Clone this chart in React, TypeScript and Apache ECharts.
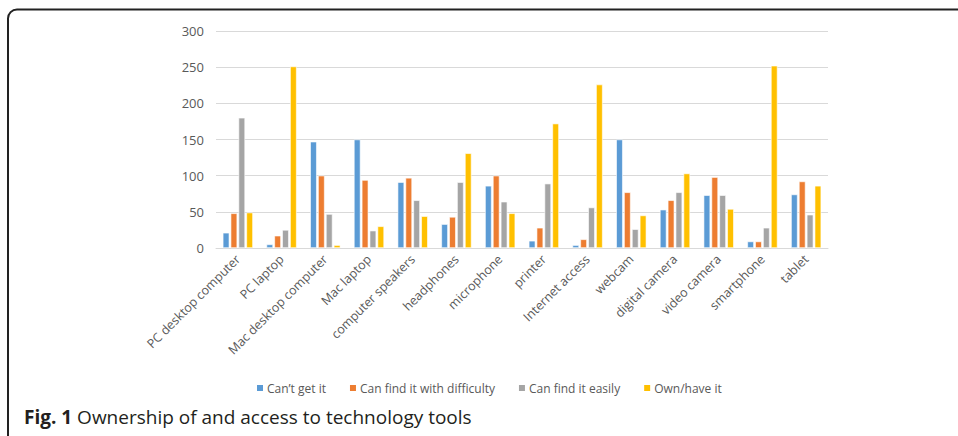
import React, { useEffect, useRef } from "react";
import * as echarts from "echarts";

const categories = [
  "PC desktop computer",
  "PC laptop",
  "Mac desktop computer",
  "Mac laptop",
  "computer speakers",
  "headphones",
  "microphone",
  "printer",
  "Internet access",
  "webcam",
  "digital camera",
  "video camera",
  "smartphone",
  "tablet",
];

const seriesNames = [
  "Can\u2019t get it",
  "Can find it with difficulty",
  "Can find it easily",
  "Own/have it",
];

const cantGetIt = [21, 5, 147, 150, 91, 33, 86, 10, 4, 150, 53, 73, 9, 74];
const withDifficulty = [48, 17, 100, 94, 97, 43, 100, 28, 12, 77, 66, 98, 9, 92];
const easily = [180, 25, 47, 24, 66, 91, 64, 89, 56, 26, 77, 73, 28, 46];
const ownHave = [49, 251, 4, 30, 44, 131, 48, 172, 226, 45, 103, 54, 252, 86];

const seriesData = [cantGetIt, withDifficulty, easily, ownHave];
const colors = ["#5B9BD5", "#ED7D31", "#A5A5A5", "#FFC000"];

const yTicks = [0, 50, 100, 150, 200, 250, 300];

export default function App() {
  const ref = useRef<HTMLDivElement>(null);

  useEffect(() => {
    if (!ref.current) return;
    const chart = echarts.init(ref.current, null, { renderer: "svg" });
    const font = "Open Sans";
    chart.setOption({
      animation: false,
      backgroundColor: "#ffffff",
      textStyle: { fontFamily: font },
      grid: { left: 216, top: 31, width: 612, height: 217, containLabel: false },
      legend: {
        data: seriesNames,
        left: 250,
        top: 377,
        itemWidth: 8,
        itemHeight: 8,
        itemGap: 22,
        icon: "rect",
        textStyle: { color: "#595959", fontSize: 12, fontFamily: font, padding: [0, 0, 0, -2] },
      },
      xAxis: {
        type: "category",
        data: categories,
        axisLine: { lineStyle: { color: "#D9D9D9", width: 1 } },
        axisTick: { show: false },
        axisLabel: {
          rotate: 45,
          color: "#595959",
          fontSize: 12.5,
          fontFamily: font,
          interval: 0,
          margin: 9,
        },
      },
      yAxis: {
        type: "value",
        min: yTicks[0],
        max: yTicks[yTicks.length - 1],
        interval: 50,
        axisLine: { show: false },
        axisTick: { show: false },
        splitLine: { lineStyle: { color: "#D9D9D9", width: 1 } },
        axisLabel: { color: "#595959", fontSize: 13, fontFamily: font, margin: 12 },
      },
      series: seriesData.map((d, i) => ({
        name: seriesNames[i],
        type: "bar",
        data: d,
        barGap: "20%",
        barCategoryGap: "31%",
        itemStyle: { color: colors[i], borderColor: "#ffffff", borderWidth: 0.6 },
      })),
      graphic: [
        {
          type: "rect",
          shape: { x: 8, y: 9.5, width: 1100, height: 600, r: 9 },
          style: { fill: "none", stroke: "#222222", lineWidth: 2 },
          silent: true,
        },
        {
          type: "text",
          left: 24,
          top: 407,
          style: {
            text: "{b|Fig. 1} Ownership of and access to technology tools",
            rich: {
              b: { fontWeight: "bold", fontSize: 19, fontFamily: font, fill: "#231F20" },
            },
            fontSize: 19,
            fontFamily: font,
            fill: "#231F20",
          },
        },
      ],
    });
    return () => chart.dispose();
  }, []);

  return (
    <div
      ref={ref}
      style={{ position: "fixed", left: 0, top: 0, width: 958, height: 436 }}
    />
  );
}
